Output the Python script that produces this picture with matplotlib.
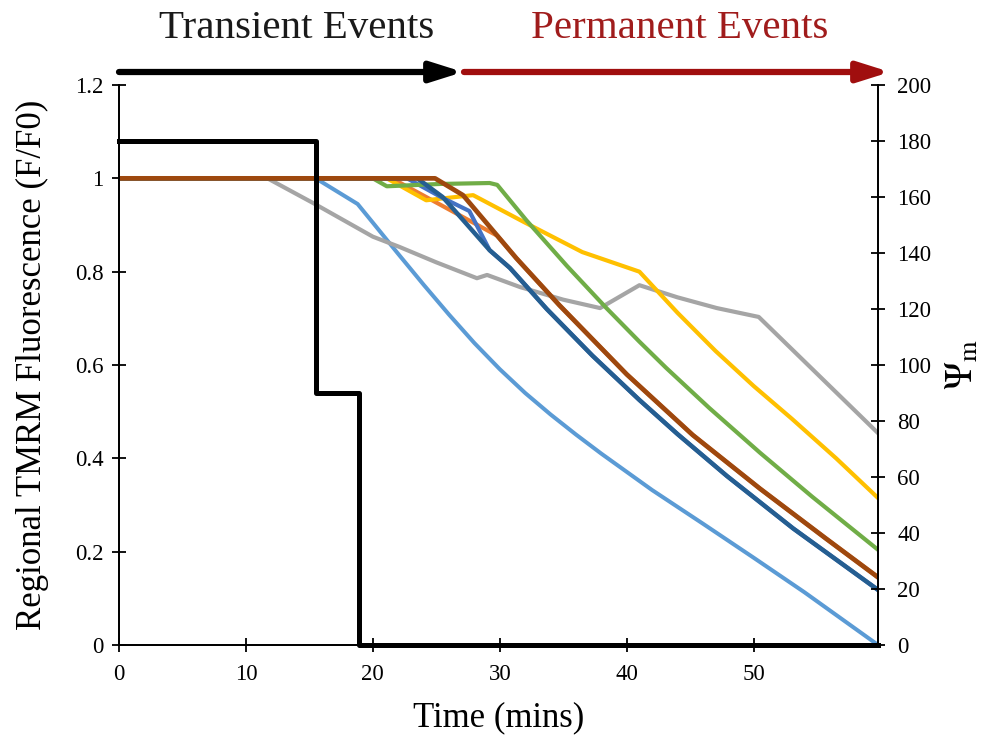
import matplotlib
matplotlib.use('Agg')
import matplotlib.pyplot as plt

plt.rcParams['font.family'] = ['Liberation Serif', 'DejaVu Serif']
plt.rcParams['mathtext.fontset'] = 'stix'

# regional TMRM fluorescence (F/F0), time in minutes
t_lblue = [0, 15.5, 18.8, 20, 22, 24, 26, 28, 30, 32, 34, 36, 38, 42, 46, 50, 54, 59.8]
v_lblue = [1.0, 1.0, 0.945, 0.905, 0.838, 0.772, 0.708, 0.647, 0.591, 0.54, 0.494,
           0.451, 0.41, 0.332, 0.26, 0.187, 0.113, 0.0]

t_orange = [0, 21.5, 29.8, 31.3, 34.7, 40.0, 45.2, 50.5, 55.7, 59.8]
v_orange = [1.0, 1.0, 0.877, 0.829, 0.728, 0.58, 0.45, 0.335, 0.228, 0.145]

t_gray = [0, 11.7, 15.3, 20.0, 22.1, 25.0, 28.2, 29.0, 31.6, 35.0, 37.9, 41.0, 44.0, 47.1, 50.4, 59.8]
v_gray = [1.0, 1.0, 0.947, 0.875, 0.853, 0.82, 0.786, 0.793, 0.767, 0.74, 0.722, 0.771, 0.745, 0.722, 0.703, 0.454]

t_yellow = [0, 21.1, 24.2, 25.5, 27.9, 32.0, 36.5, 41.0, 44.0, 47.0, 50.0, 53.0, 56.5, 59.8]
v_yellow = [1.0, 1.0, 0.953, 0.957, 0.964, 0.905, 0.842, 0.80, 0.712, 0.63, 0.555, 0.485, 0.40, 0.315]

t_blue = [0, 22.7, 25.5, 27.6, 29.2, 30.8, 33.7, 37.3, 41.0, 44.0, 47.9, 53.1, 59.8]
v_blue = [1.0, 1.0, 0.958, 0.93, 0.846, 0.808, 0.72, 0.62, 0.525, 0.452, 0.362, 0.25, 0.118]

t_green = [0, 20.0, 21.1, 25.3, 29.2, 29.8, 32.1, 35.3, 38.4, 41.0, 43.1, 46.5, 50.5, 54.6, 59.8]
v_green = [1.0, 1.0, 0.983, 0.988, 0.99, 0.986, 0.91, 0.812, 0.722, 0.65, 0.594, 0.508, 0.412, 0.318, 0.204]

t_dblue = [0, 23.5, 25.5, 26.9, 29.2, 30.8, 33.7, 37.3, 41.0, 44.0, 47.9, 53.1, 59.8]
v_dblue = [1.0, 1.0, 0.96, 0.917, 0.846, 0.808, 0.72, 0.62, 0.525, 0.452, 0.362, 0.25, 0.118]

t_brown = [0, 24.9, 27.1, 31.3, 34.7, 40.0, 45.2, 50.5, 55.7, 59.8]
v_brown = [1.0, 1.0, 0.964, 0.829, 0.728, 0.58, 0.45, 0.335, 0.228, 0.145]

# membrane potential (right axis), step trace
t_psi = [0, 15.5, 18.9, 59.8]
v_psi = [180, 90, 0, 0]

fig = plt.figure(figsize=(10.06, 7.40), dpi=100)
ax1 = fig.add_axes([0.1183, 0.1284, 0.7545, 0.7567])

ax1.plot(t_lblue, v_lblue, color='#5B9BD5', lw=2.9)
ax1.plot(t_orange, v_orange, color='#ED7D31', lw=3.0)
ax1.plot(t_gray, v_gray, color='#A5A5A5', lw=3.0)
ax1.plot(t_yellow, v_yellow, color='#FFC000', lw=3.0)
ax1.plot(t_blue, v_blue, color='#4472C4', lw=3.0)
ax1.plot(t_green, v_green, color='#70AD47', lw=3.0)
ax1.plot(t_dblue, v_dblue, color='#255E91', lw=3.2)
ax1.plot(t_brown, v_brown, color='#9E480E', lw=3.4)

ax1.set_xlim(0, 59.8)
ax1.set_ylim(0, 1.2)
ax1.set_xticks([0, 10, 20, 30, 40, 50])
ax1.set_yticks([0, 0.2, 0.4, 0.6, 0.8, 1.0, 1.2])
ax1.set_yticklabels(['0', '0.2', '0.4', '0.6', '0.8', '1', '1.2'])
ax1.spines['top'].set_visible(False)
for s in ax1.spines.values():
    s.set_linewidth(1.3)
ax1.tick_params(direction='inout', length=10, width=1.3, labelsize=16.5)
ax1.tick_params(axis='y', pad=6)
ax1.tick_params(axis='x', pad=9)
ax1.set_xlabel('Time (mins)', fontsize=25)
ax1.xaxis.set_label_coords(0.5, -0.1)
ax1.set_ylabel('Regional TMRM Fluorescence (F/F0)', fontsize=25)
ax1.yaxis.set_label_coords(-0.092, 0.5)

ax2 = ax1.twinx()
ax2.plot(t_psi, v_psi, color='black', lw=3.6, drawstyle='steps-post', clip_on=False)
ax2.set_ylim(0, 200)
ax2.set_yticks(range(0, 201, 20))
ax2.spines['top'].set_visible(False)
for s in ax2.spines.values():
    s.set_linewidth(1.3)
ax2.tick_params(direction='inout', length=10, width=1.3, labelsize=16.5, pad=9)
ax2.set_ylabel(r'$\Psi_\mathrm{m}$', fontsize=27)
ax2.yaxis.set_label_coords(1.088, 0.5)

# arrows and headings above the plot
ay = 1 - 72 / 740
ax1.annotate('', xy=(463 / 1006, ay), xytext=(119 / 1006, ay), xycoords='figure fraction',
             arrowprops=dict(arrowstyle='-|>,head_length=0.95,head_width=0.3', lw=4.5,
                             color='black', shrinkA=0, shrinkB=0, mutation_scale=20))
ax1.annotate('', xy=(890 / 1006, ay), xytext=(464 / 1006, ay), xycoords='figure fraction',
             arrowprops=dict(arrowstyle='-|>,head_length=0.95,head_width=0.3', lw=4.5,
                             color='#A00E0E', shrinkA=0, shrinkB=0, mutation_scale=20))
fig.text(297 / 1006, 1 - 29 / 740, 'Transient Events', fontsize=29.5, color='#1a1a1a',
         ha='center', va='center')
fig.text(680 / 1006, 1 - 29 / 740, 'Permanent Events', fontsize=29.5, color='#A01C1C',
         ha='center', va='center')

plt.savefig('out.png', dpi=100)
